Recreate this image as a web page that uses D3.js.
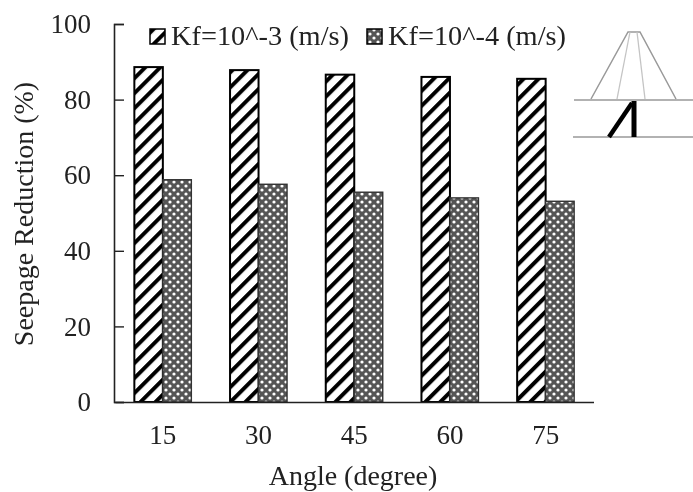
<!DOCTYPE html>
<html><head><meta charset="utf-8">
<script src="https://cdn.jsdelivr.net/npm/d3@7"></script>
<style>html,body{margin:0;background:#fff}svg{display:block;filter:blur(0.4px)}text{font-family:"Liberation Serif",serif;fill:#222}</style>
</head><body><div id="c"></div>
<script>
const categories=["15","30","45","60","75"];
const seriesNames=["Kf=10^-3 (m/s)","Kf=10^-4 (m/s)"];
const kf3=[88.6,87.8,86.6,86,85.5];
const kf4=[58.8,57.6,55.5,54,53.1];
const yTicks=[0,20,40,60,80,100];
const W=693,H=492,FS=27;
const svg=d3.select("#c").append("svg").attr("width",W).attr("height",H);
const defs=svg.append("defs");
const hatch=defs.append("pattern").attr("id","h").attr("patternUnits","userSpaceOnUse")
 .attr("width",10.6).attr("height",10.6).attr("patternTransform","rotate(45)");
hatch.append("rect").attr("width",10.6).attr("height",10.6).attr("fill","#fff");
hatch.append("rect").attr("width",4).attr("height",10.6).attr("fill","#000");
const dots=defs.append("pattern").attr("id","d").attr("patternUnits","userSpaceOnUse").attr("width",8).attr("height",8);
dots.append("rect").attr("width",8).attr("height",8).attr("fill","#555");
dots.append("circle").attr("cx",2).attr("cy",2).attr("r",1.6).attr("fill","#fff");
dots.append("circle").attr("cx",6).attr("cy",6).attr("r",1.6).attr("fill","#fff");
const fills=["url(#h)","url(#d)"];
const x=d3.scaleBand().domain(categories).range([115,593.5]);
const xs=d3.scaleBand().domain([0,1]).range([0,57]);
const y=d3.scaleLinear().domain([0,100]).range([402,24]);
const off=(x.bandwidth()-57)/2;
[kf3,kf4].forEach((vals,s)=>{
 svg.append("g").selectAll("rect").data(vals).join("rect")
  .attr("x",(d,i)=>x(categories[i])+off+xs(s))
  .attr("width",xs.bandwidth()).attr("y",d=>y(d)).attr("height",d=>y(0)-y(d))
  .attr("fill",fills[s]).attr("stroke",s?"#333":"#000").attr("stroke-width",s?1.4:2);
});
const ya=svg.append("g").attr("transform","translate(114,0)")
 .call(d3.axisLeft(y).tickValues(yTicks).tickSize(-10).tickPadding(23).tickFormat(d3.format("d")));
ya.selectAll("text").attr("font-size",FS).attr("font-family","Liberation Serif").attr("fill","#222");
const xa=svg.append("g").attr("transform","translate(0,402)")
 .call(d3.axisBottom(x).tickSize(0).tickPadding(23));
xa.selectAll("text").attr("font-size",FS).attr("font-family","Liberation Serif").attr("fill","#222");
svg.selectAll(".domain").attr("stroke","#222").attr("stroke-width",1.6);
ya.selectAll(".tick line").attr("stroke","#222").attr("stroke-width",1.4);
svg.append("text").attr("x",353).attr("y",485).attr("text-anchor","middle").attr("font-size",28).text("Angle (degree)");
svg.append("text").attr("transform","translate(33,214) rotate(-90)").attr("text-anchor","middle").attr("font-size",28).text("Seepage Reduction (%)");
// legend
[150,367].forEach((p,i)=>{
 svg.append("rect").attr("x",p).attr("y",29).attr("width",15).attr("height",15)
  .attr("fill",fills[i]).attr("stroke","#000").attr("stroke-width",1.5);
 svg.append("text").attr("x",p+21).attr("y",45).attr("font-size",27)
  .attr("textLength",178).attr("lengthAdjust","spacingAndGlyphs").text(seriesNames[i]);
});
// inset schematic
const ins=svg.append("g").attr("fill","none");
const grey="#999";
[[[574,100],[693,100]],[[573,137],[693,137]]].forEach(l=>ins.append("path").attr("d",d3.line()(l)).attr("stroke",grey).attr("stroke-width",1.6));
ins.append("path").attr("d",d3.line()([[591,99],[628,32],[640,32],[676,99]])).attr("stroke","#999").attr("stroke-width",1.5);
ins.append("path").attr("d",d3.line()([[617,99],[630,32]])).attr("stroke","#c4c4c4").attr("stroke-width",1.3);
ins.append("path").attr("d",d3.line()([[645,99],[637,32]])).attr("stroke","#c4c4c4").attr("stroke-width",1.3);
ins.append("path").attr("d",d3.line()([[609,137],[632,103]])).attr("stroke","#000").attr("stroke-width",4.5);
ins.append("path").attr("d",d3.line()([[634,101],[634,137]])).attr("stroke","#000").attr("stroke-width",5);
</script></body></html>
